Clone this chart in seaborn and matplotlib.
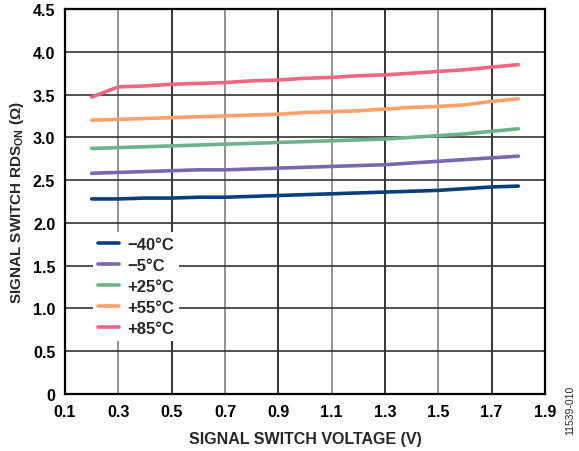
import matplotlib
matplotlib.use("Agg")
import matplotlib.pyplot as plt
import seaborn as sns
import pandas as pd

# Signal switch on-resistance vs. signal voltage at several temperatures
voltage = [0.2, 0.3, 0.4, 0.5, 0.6, 0.7, 0.8, 0.9, 1.0, 1.1, 1.2, 1.3, 1.4, 1.5, 1.6, 1.7, 1.8]
rds_m40 = [2.28, 2.28, 2.29, 2.29, 2.30, 2.30, 2.31, 2.32, 2.33, 2.34, 2.35, 2.36, 2.37, 2.38, 2.40, 2.42, 2.43]
rds_m5 = [2.58, 2.59, 2.60, 2.61, 2.62, 2.62, 2.63, 2.64, 2.65, 2.66, 2.67, 2.68, 2.70, 2.72, 2.74, 2.76, 2.78]
rds_p25 = [2.87, 2.88, 2.89, 2.90, 2.91, 2.92, 2.93, 2.94, 2.95, 2.96, 2.97, 2.98, 3.00, 3.02, 3.04, 3.07, 3.10]
rds_p55 = [3.20, 3.21, 3.22, 3.23, 3.24, 3.25, 3.26, 3.27, 3.29, 3.30, 3.31, 3.33, 3.35, 3.36, 3.38, 3.42, 3.45]
rds_p85 = [3.47, 3.59, 3.60, 3.62, 3.63, 3.64, 3.66, 3.67, 3.69, 3.70, 3.72, 3.73, 3.75, 3.77, 3.79, 3.82, 3.85]

temps = ["\u221240\u00b0C", "\u22125\u00b0C", "+25\u00b0C", "+55\u00b0C", "+85\u00b0C"]
colors = ["#063f7c", "#7a67b0", "#6cb38b", "#ffa06b", "#ee6680"]

x_ticks = [0.1, 0.3, 0.5, 0.7, 0.9, 1.1, 1.3, 1.5, 1.7, 1.9]
y_ticks = [0, 0.5, 1.0, 1.5, 2.0, 2.5, 3.0, 3.5, 4.0, 4.5]
y_ticklabels = ["0", "0.5", "1.0", "1.5", "2.0", "2.5", "3.0", "3.5", "4.0", "4.5"]

series = [rds_m40, rds_m5, rds_p25, rds_p55, rds_p85]
df = pd.concat(
    [pd.DataFrame({"voltage": voltage, "rds": vals, "temp": t}) for t, vals in zip(temps, series)],
    ignore_index=True,
)

sns.set_style("white")
plt.rcParams["font.family"] = ["Liberation Sans", "DejaVu Sans"]
plt.rcParams["font.weight"] = "bold"
plt.rcParams["mathtext.fontset"] = "custom"
plt.rcParams["mathtext.rm"] = "Liberation Sans:bold"
plt.rcParams["mathtext.it"] = "Liberation Sans:bold"
plt.rcParams["mathtext.bf"] = "Liberation Sans:bold"

fig = plt.figure(figsize=(5.79, 4.52), dpi=100)
ax = fig.add_axes([0.1123, 0.1261, 0.829, 0.8518])

sns.lineplot(data=df, x="voltage", y="rds", hue="temp", palette=colors,
             hue_order=temps, linewidth=2.6, ax=ax, legend=True)

ax.set_xlim(0.1, 1.9)
ax.set_ylim(0, 4.5)
ax.set_xticks(x_ticks)
ax.set_xticklabels([f"{v:.1f}" for v in x_ticks])
ax.set_yticks(y_ticks)
ax.set_yticklabels(y_ticklabels)
ax.tick_params(axis="both", length=0, labelsize=11.5, pad=7, colors="black")
for lab in ax.get_xticklabels() + ax.get_yticklabels():
    lab.set_fontweight("bold")

ax.grid(True, linewidth=1.2, color="#222222")
for i, gl in enumerate(ax.get_xgridlines()):
    gl.set_color("#7f7f7f" if i % 2 == 1 else "#111111")
for gl in ax.get_ygridlines():
    gl.set_color("#333333")
ax.set_axisbelow(True)

for sp in ax.spines.values():
    sp.set_visible(True)
    sp.set_color("black")
    sp.set_linewidth(1.6)

ax.set_xlabel("SIGNAL SWITCH VOLTAGE (V)", fontsize=11.5, fontweight="bold", labelpad=9)
ax.set_ylabel(r"SIGNAL SWITCH RDS$_{\mathrm{ON}}$ ($\Omega$)", fontsize=11, fontweight="bold", labelpad=5)

leg = ax.legend(loc="upper left", bbox_to_anchor=(0.058, 0.42), frameon=True,
                fontsize=12, handlelength=1.25, handletextpad=0.5,
                labelspacing=0.36, borderpad=0.3, borderaxespad=0)
leg.get_frame().set_edgecolor("none")
leg.get_frame().set_facecolor("white")
leg.get_frame().set_alpha(1)
for line in leg.get_lines():
    line.set_linewidth(2.6)
for t in leg.get_texts():
    t.set_fontweight("bold")

fig.text(0.985, 0.093, "11539-010", rotation=90, fontsize=7.5, ha="center", va="center",
         fontweight="normal")

fig.savefig("out.png", dpi=100)
